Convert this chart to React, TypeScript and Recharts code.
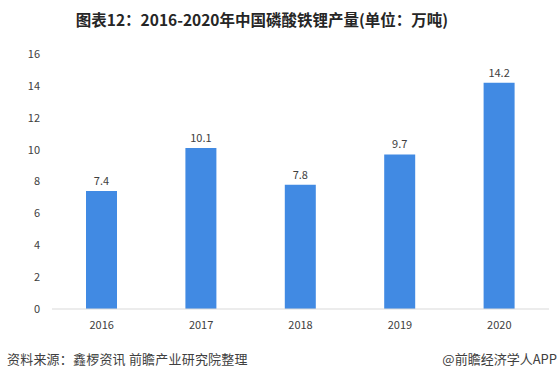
import { BarChart, Bar, XAxis, YAxis, LabelList } from "recharts";

const years = ["2016", "2017", "2018", "2019", "2020"];
const output = [7.4, 10.1, 7.8, 9.7, 14.2];
const yTicks = [0, 2, 4, 6, 8, 10, 12, 14, 16];

const TITLE = "图表12：2016-2020年中国磷酸铁锂产量(单位：万吨)";
const SOURCE = "资料来源：鑫椤资讯 前瞻产业研究院整理";
const BRAND = "@前瞻经济学人APP";

const FONT = "'Noto Sans CJK SC', 'Noto Sans', sans-serif";

export default function App() {
  const data = years.map((year, i) => ({ year, value: output[i] }));

  return (
    <div
      style={{
        position: "absolute",
        left: 0,
        top: 0,
        width: 559,
        height: 381,
        background: "#fff",
        fontFamily: FONT,
      }}
    >
      <div
        style={{
          position: "absolute",
          top: 8,
          left: 0,
          width: 524,
          textAlign: "center",
          fontSize: 15.5,
          fontWeight: "bold",
          color: "#262626",
          lineHeight: "22px",
          whiteSpace: "nowrap",
        }}
      >
        {TITLE}
      </div>

      <BarChart
        width={559}
        height={381}
        data={data}
        margin={{ top: 54, right: 10, left: 0, bottom: 50 }}
      >
        <XAxis
          dataKey="year"
          axisLine={{ stroke: "#d9d9d9" }}
          tickLine={false}
          tick={{ fontSize: 11, fill: "#404040", fontFamily: FONT }}
          tickMargin={6}
          height={22}
        />
        <YAxis
          width={52}
          domain={[0, 16]}
          ticks={yTicks}
          axisLine={false}
          tickLine={false}
          tick={{ fontSize: 11, fill: "#404040", fontFamily: FONT }}
          tickMargin={6}
        />
        <Bar dataKey="value" fill="#418AE3" barSize={31} isAnimationActive={false}>
          <LabelList
            dataKey="value"
            position="top"
            offset={6}
            style={{ fontSize: 11, fill: "#404040", fontFamily: FONT }}
          />
        </Bar>
      </BarChart>

      <div
        style={{
          position: "absolute",
          top: 349,
          left: 7,
          fontSize: 13,
          letterSpacing: 0.2,
          color: "#404040",
          lineHeight: "20px",
          whiteSpace: "nowrap",
        }}
      >
        {SOURCE}
      </div>
      <div
        style={{
          position: "absolute",
          top: 349,
          right: 2,
          fontSize: 13,
          color: "#404040",
          lineHeight: "20px",
          whiteSpace: "nowrap",
        }}
      >
        {BRAND}
      </div>
    </div>
  );
}
